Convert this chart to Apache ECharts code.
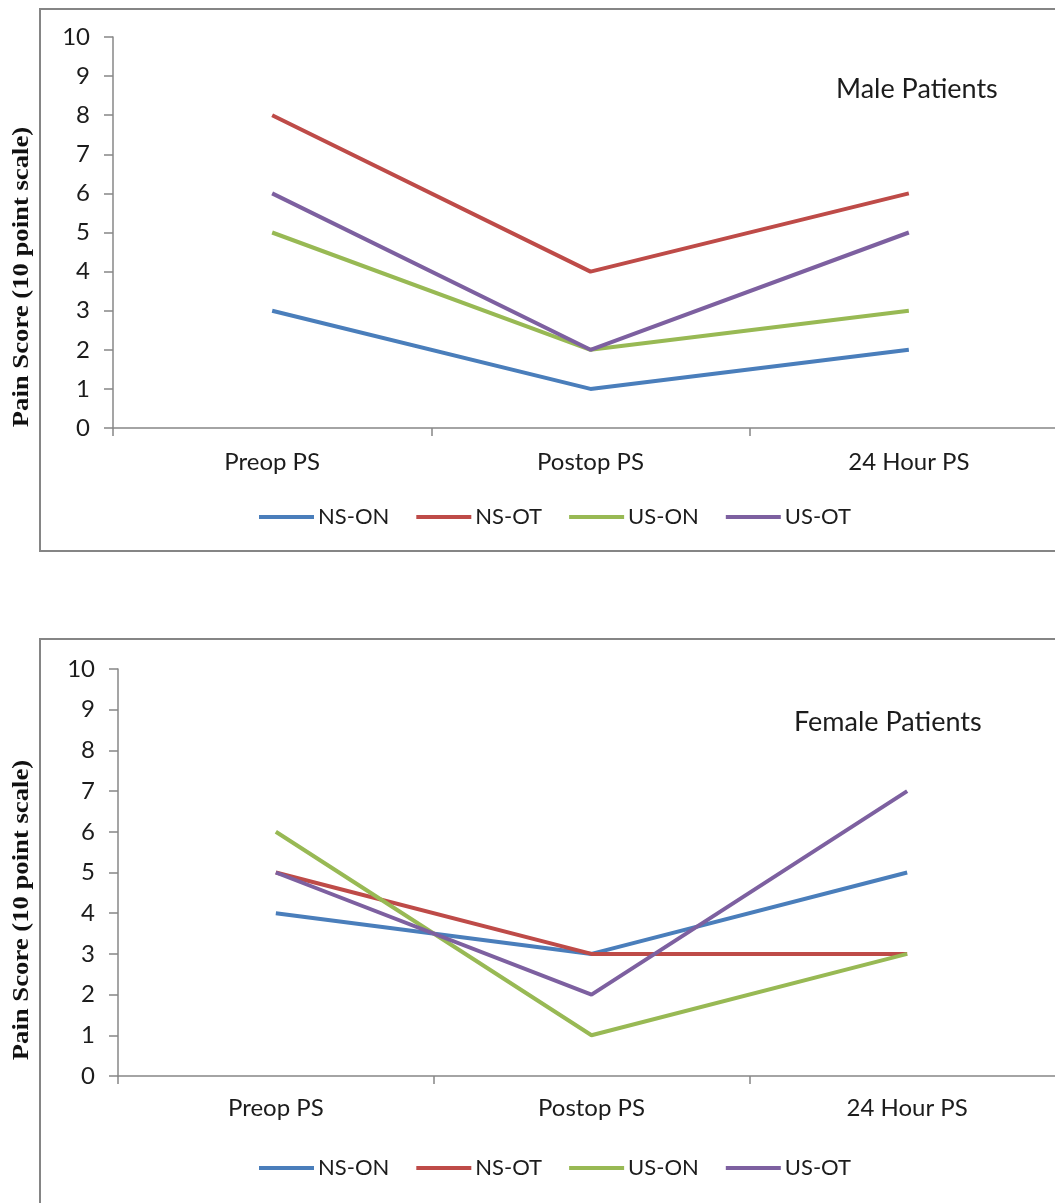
<!DOCTYPE html>
<html>
<head>
<meta charset="utf-8">
<script src="https://cdn.jsdelivr.net/npm/echarts@6/dist/echarts.min.js"></script>
<style>
html,body{margin:0;padding:0;background:#fff;overflow:hidden;width:1055px;height:1203px;}
#c{width:1080px;height:1203px;}
</style>
</head>
<body>
<div id="c"></div>
<script>
const categories = ['Preop PS', 'Postop PS', '24 Hour PS'];
const seriesNames = ['NS-ON', 'NS-OT', 'US-ON', 'US-OT'];
const seriesColors = ['#4A7EBB', '#BE4B48', '#98B954', '#7D60A0'];
const yTicks = [0, 1, 2, 3, 4, 5, 6, 7, 8, 9, 10];

const maleNSON = [3, 1, 2];
const maleNSOT = [8, 4, 6];
const maleUSON = [5, 2, 3];
const maleUSOT = [6, 2, 5];

const femaleNSON = [4, 3, 5];
const femaleNSOT = [5, 3, 3];
const femaleUSON = [6, 1, 3];
const femaleUSOT = [5, 2, 7];

const titleMale = 'Male Patients';
const titleFemale = 'Female Patients';
const yTitle = 'Pain Score (10 point scale)';

const maleData = [maleNSON, maleNSOT, maleUSON, maleUSOT];
const femaleData = [femaleNSON, femaleNSOT, femaleUSON, femaleUSOT];

const axisGray = '#878787';
const textColor = '#1c1c1c';
const sans = 'Lato';

function xAxis(gi, margin) {
  return {
    type: 'category', gridIndex: gi, data: categories, boundaryGap: true,
    axisLine: {lineStyle: {color: axisGray, width: 1.5}},
    axisTick: {show: true, length: 8, interval: 0, lineStyle: {color: axisGray, width: 1.5}},
    axisLabel: {color: textColor, fontFamily: sans, fontSize: 24, margin: margin, interval: 0}
  };
}
function yAxis(gi) {
  return {
    type: 'value', gridIndex: gi, min: yTicks[0], max: yTicks[yTicks.length - 1], interval: 1,
    splitLine: {show: false},
    axisLine: {show: true, lineStyle: {color: axisGray, width: 1.5}},
    axisTick: {show: true, length: 9, lineStyle: {color: axisGray, width: 1.5}},
    axisLabel: {color: textColor, fontFamily: sans, fontSize: 24, margin: 23}
  };
}

const series = [];
[maleData, femaleData].forEach((set, gi) => {
  set.forEach((vals, i) => {
    series.push({
      name: seriesNames[i], type: 'line', xAxisIndex: gi, yAxisIndex: gi,
      data: vals, symbol: 'none', color: seriesColors[i],
      lineStyle: {width: 4, color: seriesColors[i]}, animation: false
    });
  });
});

function legend(top) {
  return {
    data: seriesNames, left: 254, top: top, itemWidth: 55, itemHeight: 4, itemGap: 27,
    icon: 'rect', textStyle: {color: textColor, fontFamily: sans, fontSize: 22, padding: [0,0,0,-1]}
  };
}

const chart = echarts.init(document.getElementById('c'), null, {renderer: 'canvas'});
chart.setOption({
  animation: false,
  backgroundColor: '#fff',
  grid: [
    {left: 113, right: 12, top: 37, height: 391},
    {left: 118, right: 15, top: 669, height: 407}
  ],
  xAxis: [xAxis(0, 22), xAxis(1, 20)],
  yAxis: [yAxis(0), yAxis(1)],
  legend: [legend(501), legend(1152)],
  series: series,
  graphic: [
    {type: 'rect', shape: {x: 40, y: 9, width: 1100, height: 542}, style: {fill: 'none', stroke: '#858585', lineWidth: 2}, z: -1},
    {type: 'rect', shape: {x: 40, y: 639, width: 1100, height: 700}, style: {fill: 'none', stroke: '#858585', lineWidth: 2}, z: -1},
    {type: 'text', x: 836, y: 89, style: {text: titleMale, fill: textColor, font: '27px Lato', textAlign: 'left', textVerticalAlign: 'middle'}},
    {type: 'text', x: 794, y: 722, style: {text: titleFemale, fill: textColor, font: '27px Lato', textAlign: 'left', textVerticalAlign: 'middle'}},
    {type: 'text', x: 22, y: 277, rotation: Math.PI / 2, scaleX: 1.16, style: {text: yTitle, fill: '#111', font: 'bold 23px "Liberation Serif"', textAlign: 'center', textVerticalAlign: 'middle'}},
    {type: 'text', x: 22, y: 910, rotation: Math.PI / 2, scaleX: 1.16, style: {text: yTitle, fill: '#111', font: 'bold 23px "Liberation Serif"', textAlign: 'center', textVerticalAlign: 'middle'}}
  ]
});
</script>
</body>
</html>
